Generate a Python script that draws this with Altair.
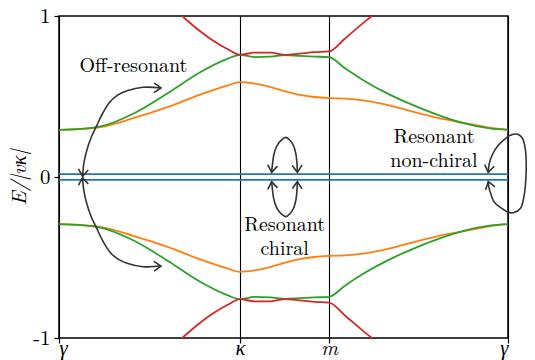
import altair as alt
import pandas as pd

# ---- axes ----
tick_k = [0.0, 1.0, 1.492, 2.481]
tick_labels = ["γ", "κ", "m", "γ"]
y_ticks = [-1, 0, 1]
y_tick_labels = ["-1", "0", "1"]

# ---- bands (upper half; lower half is the mirror image) ----
k_grid = [0.0, 0.12, 0.23, 0.41, 0.6, 0.78, 0.93, 1.0, 1.08, 1.17, 1.25, 1.33,
          1.41, 1.492, 1.58, 1.69, 1.83, 1.97, 2.1, 2.24, 2.38, 2.481]
orange_upper = [0.293, 0.298, 0.31, 0.365, 0.434, 0.512, 0.568, 0.589, 0.58, 0.558,
                0.532, 0.51, 0.497, 0.49, 0.487, 0.474, 0.443, 0.402, 0.365, 0.336,
                0.306, 0.293]
green_upper = [0.293, 0.299, 0.314, 0.393, 0.52, 0.651, 0.734, 0.759, 0.745, 0.748,
               0.757, 0.752, 0.748, 0.744, 0.675, 0.595, 0.51, 0.44, 0.383, 0.333,
               0.302, 0.293]
red_k = [0.6, 0.68, 0.78, 0.85, 0.93, 1.0, 1.08, 1.17, 1.25, 1.33, 1.41, 1.492,
         1.58, 1.69, 1.8]
red_upper = [1.08, 1.0, 0.905, 0.848, 0.795, 0.759, 0.772, 0.772, 0.758, 0.766,
             0.775, 0.78, 0.86, 0.965, 1.06]
blue_level = 0.018

band_colors = {"blue": "#1f77b4", "orange": "#ff7f0e", "green": "#2ca02c", "red": "#d62728"}

# ---- annotation arrows ----
off_k = [0.130, 0.138, 0.153, 0.177, 0.208, 0.243, 0.282, 0.326, 0.376, 0.464, 0.5635]
off_E = [0.004, 0.089, 0.163, 0.244, 0.318, 0.399, 0.467, 0.510, 0.535, 0.557, 0.553]
ch_k = [1.175, 1.180, 1.188, 1.204, 1.230, 1.254, 1.276, 1.296, 1.309, 1.315, 1.317]
ch_E = [0.029, 0.083, 0.143, 0.194, 0.231, 0.246, 0.228, 0.194, 0.143, 0.083, 0.029]
nc_k = [2.372, 2.3774, 2.3963, 2.4251, 2.4629, 2.4944, 2.5295, 2.5592, 2.5763, 2.5817,
        2.579, 2.5691, 2.5493, 2.5142, 2.48, 2.4404, 2.4053, 2.3855, 2.3747, 2.372]
nc_E = [0.029, 0.083, 0.143, 0.194, 0.236, 0.259, 0.267, 0.244, 0.176, 0.083, -0.023,
        -0.122, -0.196, -0.221, -0.218, -0.190, -0.157, -0.103, -0.060, -0.029]

head_k = [0.130, 0.5635, 0.130, 0.5635, 1.175, 1.317, 1.175, 1.317, 2.372, 2.372]
head_E = [0.004, 0.553, -0.004, -0.553, 0.029, 0.029, -0.029, -0.029, 0.029, -0.029]
head_angle = [97, 2, 263, 358, 98, 88, 262, 272, 100, 253]

label_text = ["Off-resonant", "Resonant\nchiral", "Resonant\nnon-chiral"]
label_k = [0.411, 1.247, 2.072]
label_E = [0.653, -0.335, 0.212]

# ---- tables ----
rows = []
for sgn, tag in [(1, "+"), (-1, "-")]:
    rows += [dict(k=k, E=sgn * blue_level, band="blue", s="blue" + tag, i=j)
             for j, k in enumerate([tick_k[0], tick_k[-1]])]
    rows += [dict(k=k, E=sgn * e, band="orange", s="orange" + tag, i=j)
             for j, (k, e) in enumerate(zip(k_grid, orange_upper))]
    rows += [dict(k=k, E=sgn * e, band="green", s="green" + tag, i=j)
             for j, (k, e) in enumerate(zip(k_grid, green_upper))]
    rows += [dict(k=k, E=sgn * e, band="red", s="red" + tag, i=j)
             for j, (k, e) in enumerate(zip(red_k, red_upper))]
bands = pd.DataFrame(rows)

arows = []
for sgn, tag in [(1, "+"), (-1, "-")]:
    arows += [dict(k=k, E=sgn * e, s="off" + tag, i=j) for j, (k, e) in enumerate(zip(off_k, off_E))]
    arows += [dict(k=k, E=sgn * e, s="ch" + tag, i=j) for j, (k, e) in enumerate(zip(ch_k, ch_E))]
arows += [dict(k=k, E=e, s="nc", i=j) for j, (k, e) in enumerate(zip(nc_k, nc_E))]
arrows = pd.DataFrame(arows)

heads = pd.DataFrame(dict(k=head_k, E=head_E, angle=head_angle))
labels = pd.DataFrame(dict(k=label_k, E=label_E, text=label_text))

FONT = "Latin Modern Roman"
FS = 20.8
x_expr = " : ".join(f"datum.value == {v} ? '{l}'" for v, l in zip(tick_k, tick_labels)) + " : ''"
y_expr = " : ".join(f"datum.value == {v} ? '{l}'" for v, l in zip(y_ticks, y_tick_labels)) + " : ''"

xs = alt.Scale(domain=[tick_k[0], tick_k[-1]], nice=False, zero=False)
ys = alt.Scale(domain=[-1, 1], nice=False, zero=False)

x_axis = alt.Axis(values=tick_k, labelExpr=x_expr, title=None, grid=True, gridColor="black",
                  gridWidth=1.1, gridOpacity=1, domain=False, tickColor="black", tickSize=5,
                  tickWidth=1.2, labelFont=FONT, labelFontSize=FS, labelFontStyle="italic",
                  labelColor="black", labelBaseline="alphabetic", labelPadding=11)
y_axis = alt.Axis(values=y_ticks, labelExpr=y_expr, title="E/|vκ|", grid=False, domain=False,
                  tickColor="black", tickSize=5, tickWidth=1.2, labelFont=FONT, labelFontSize=FS,
                  labelColor="black", labelPadding=4, titleFont=FONT, titleFontSize=FS,
                  titleFontStyle="italic", titleFontWeight="normal", titleColor="black",
                  titlePadding=3)

band_layer = alt.Chart(bands).mark_line(clip=True, interpolate="monotone", strokeWidth=1.8).encode(
    x=alt.X("k:Q", scale=xs, axis=x_axis),
    y=alt.Y("E:Q", scale=ys, axis=y_axis),
    color=alt.Color("band:N", scale=alt.Scale(domain=list(band_colors), range=list(band_colors.values())),
                    legend=None),
    detail="s:N",
    order="i:Q",
)

arrow_layer = alt.Chart(arrows).mark_line(interpolate="catmull-rom", color="#333333", strokeWidth=1.6).encode(
    x=alt.X("k:Q", scale=xs), y=alt.Y("E:Q", scale=ys), detail="s:N", order="i:Q"
)

head_layer = alt.Chart(heads).mark_point(shape="M -1 -0.7 L 0 0 L -1 0.7", filled=False, size=196,
                                          color="#333333", strokeWidth=1.6, opacity=1).encode(
    x=alt.X("k:Q", scale=xs), y=alt.Y("E:Q", scale=ys), angle=alt.Angle("angle:Q", scale=None)
)

text_layer = alt.Chart(labels).mark_text(font=FONT, fontSize=20, color="black", align="center",
                                         baseline="alphabetic", lineBreak="\n", lineHeight=24).encode(
    x=alt.X("k:Q", scale=xs), y=alt.Y("E:Q", scale=ys), text="text:N"
)

chart = alt.layer(band_layer, arrow_layer, head_layer, text_layer).properties(
    width=449, height=322,
    autosize=alt.AutoSizeParams(type="none"),
    padding={"left": 51, "top": 8, "right": 19, "bottom": 22},
).configure_view(stroke="black", strokeWidth=1.5)

chart.save("out.html", embed_options={"renderer": "svg", "actions": False})
